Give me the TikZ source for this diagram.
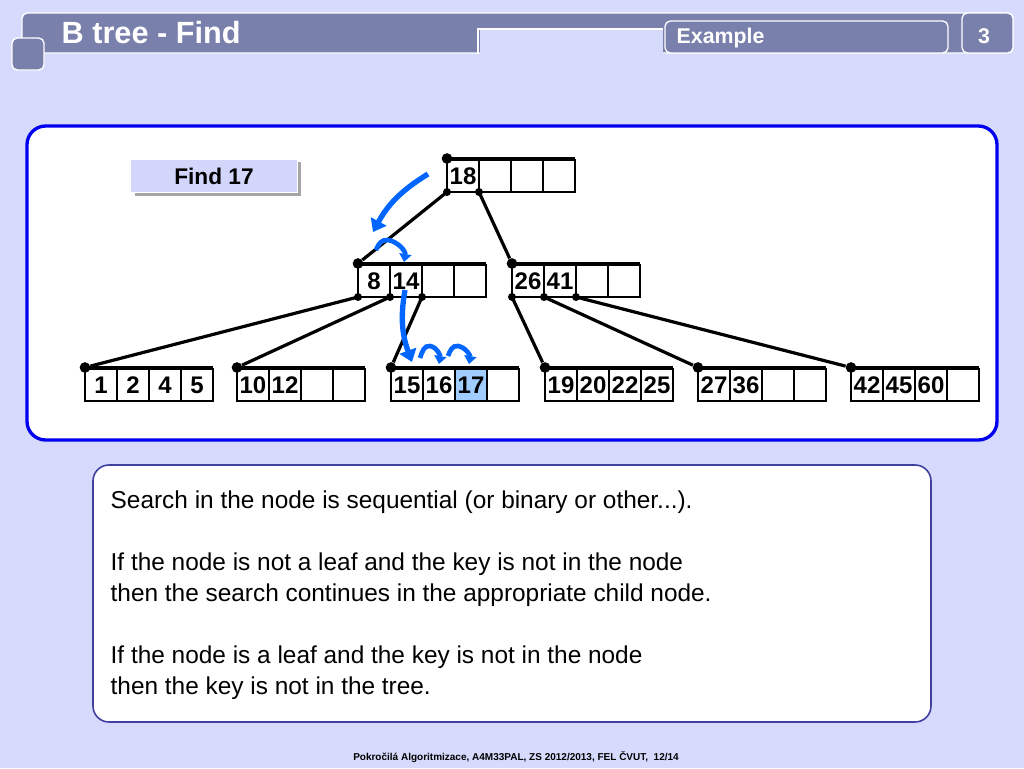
\documentclass[tikz,border=0pt]{standalone}
\usepackage{fontspec}
\setmainfont{Liberation Sans}
\definecolor{pagebg}{RGB}{214,218,252}
\definecolor{headbar}{RGB}{122,128,172}
\definecolor{panelblue}{RGB}{0,0,240}
\definecolor{arrowblue}{RGB}{0,102,255}
\definecolor{findfill}{RGB}{210,214,250}
\definecolor{textframe}{RGB}{64,64,160}
\definecolor{hitcell}{RGB}{160,204,255}
\usetikzlibrary{positioning, arrows.meta}
\tikzset{
    cell/.style={
           rectangle,
           draw=black, thick,
           minimum width=24pt, minimum height=24pt,
           inner sep=0pt,
           font=\bfseries\fontsize{18}{18}\selectfont,
           },
    dot/.style={circle, fill=black, inner sep=0pt, minimum size=8pt},
    link/.style={line width=2.4pt},
    walk/.style={-{Triangle[length=9pt,width=13pt]}, line width=4pt, arrowblue},
    hop/.style={-{Triangle[length=6pt,width=9pt]}, line width=3.5pt, arrowblue},
    headbox/.style={fill=headbar, draw=white, line width=1pt, rounded corners=4pt},
}
% a B-tree node: name, left x, top y, four keys
\newcommand{\bnode}[4]{
  \foreach \k [count=\i] in {#4} {
    \node[cell] (#1-\i) at ({#2+32*\i-16},{#3+16}) {\k};
  }
  \draw[line width=3pt] (#2,#3-1.5) -- (#2+128,#3-1.5);
  \node[dot] (#1-t) at (#2,#3-1.5) {};
  \foreach \j in {0,1,2} {
    \coordinate (#1-p\j) at (#2+32*\j,#3+32);
  }
}

\begin{document}
\begin{tikzpicture}[x=0.75pt, y=-0.75pt]
  \useasboundingbox (0,0) rectangle (1024,768);
  \fill[pagebg] (0,0) rectangle (1024,768);
  % header
  \draw[headbox] (22,13) rectangle (1013,53);
  \fill[pagebg] (480,29) rectangle (663,56);
  \draw[white, line width=1pt] (478,54) -- (478,29) -- (663,29);
  \draw[headbox] (665,21) rectangle (948,53);
  \draw[headbox] (962,13) rectangle (1013,53);
  \draw[headbox] (12,38) rectangle (44,70);
  \node[white, font=\bfseries\fontsize{23}{23}\selectfont, anchor=west] (title) at (57,33) {B tree - Find};
  \node[white, font=\bfseries\fontsize{16}{16}\selectfont, anchor=west] (part) at (672,38) {Example};
  \node[white, font=\bfseries\fontsize{16}{16}\selectfont] (page) at (984,36) {3};
  % panels
  \draw[panelblue, line width=2.5pt, fill=white, rounded corners=14pt] (27,126) rectangle (997,440);
  \draw[textframe, line width=1.2pt, fill=white, rounded corners=12pt] (93,465) rectangle (931,722);
  \fill[gray!70] (135,162) rectangle (301,196);
  \node[draw=white, line width=1pt, fill=findfill, minimum width=125pt, minimum height=25pt,
        font=\bfseries\fontsize{17}{17}\selectfont] (find) at (214,176) {Find 17};
  % tree
  \fill[hitcell] (455,369) rectangle (487,401);
  \bnode{r}{447}{160}{18,,,}
  \bnode{a}{358}{265}{8,14,,}
  \bnode{b}{512}{265}{26,41,,}
  \bnode{l1}{85}{369}{1,2,4,5}
  \bnode{l2}{237}{369}{10,12,,}
  \bnode{l3}{391}{369}{15,16,17,}
  \bnode{l4}{545}{369}{19,20,22,25}
  \bnode{l5}{698}{369}{27,36,,}
  \bnode{l6}{851}{369}{42,45,60,}
  \foreach \u/\v in {r-p0/a-t, r-p1/b-t, a-p0/l1-t, a-p1/l2-t, a-p2/l3-t,
                     b-p0/l4-t, b-p1/l5-t, b-p2/l6-t} {
    \draw[link] (\u) -- (\v);
    \node[dot, minimum size=6pt] at (\u) {};
  }
  % search path
  \coordinate (s1) at (428,174);
  \coordinate (s2) at (373,232);
  \draw[walk] (s1) to[bend right=15] (s2);
  \draw[hop] (376,250) to[out=70, in=170] (388,240) to[out=-10, in=80] (404,262);
  \draw[walk] (405,290) to[out=-100, in=110] (412,362);
  \draw[hop] (420,358) to[out=70, in=170] (430,346) to[out=-10, in=80] (439,364);
  \draw[hop] (448,356) to[out=70, in=170] (458,346) to[out=-10, in=80] (469,364);
  % text
  \node[anchor=north west, align=left, font=\fontsize{18.3}{23.3}\selectfont] (note) at (106,486)
    {Search in the node is sequential (or binary or other...).\\[23.3pt]
     If the node is not a leaf and the key is not in the node\\
     then the search continues in the appropriate child node.\\[23.3pt]
     If the node is a leaf and the key is not in the node\\
     then the key is not in the tree.};
  \node[font=\bfseries\fontsize{7.5}{7.5}\selectfont] (foot) at (516,757)
    {Pokročilá Algoritmizace, A4M33PAL, ZS 2012/2013, FEL ČVUT,\ \ 12/14};
\end{tikzpicture}
\end{document}
